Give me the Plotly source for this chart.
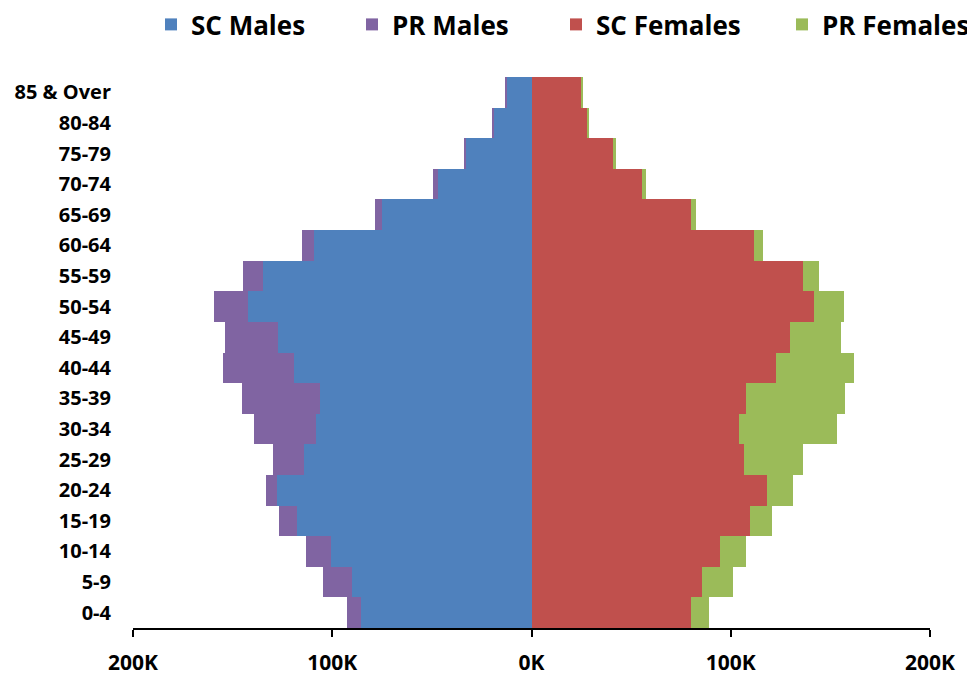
import plotly.graph_objects as go

age_groups = ["0-4", "5-9", "10-14", "15-19", "20-24", "25-29", "30-34", "35-39",
              "40-44", "45-49", "50-54", "55-59", "60-64", "65-69", "70-74",
              "75-79", "80-84", "85 & Over"]

sc_males = [85400, 90200, 100800, 117500, 127500, 114400, 108000, 106300,
            119400, 127000, 142100, 134900, 109000, 74800, 47100, 32800, 19100, 12500]
pr_males = [7300, 14500, 12200, 9300, 5600, 15100, 31200, 39000,
            35200, 26600, 17000, 9700, 6300, 3500, 2500, 1200, 500, 500]
sc_females = [80100, 85400, 94500, 109500, 118100, 106700, 104200, 107500,
              122600, 129600, 141700, 136300, 111600, 80100, 55300, 41000, 28300, 25300]
pr_females = [8900, 15800, 13400, 11300, 13100, 29600, 49200, 49600,
              39200, 25700, 14900, 7800, 4700, 2700, 2000, 1400, 500, 500]

tick_vals = [-200000, -100000, 0, 100000, 200000]
tick_text = ["200K", "100K", "0K", "100K", "200K"]

FONT = "Open Sans, Arial, sans-serif"
# the page body adds an 8px margin, so the figure is sized to fit inside it
W, H, PAGE = 967, 665, 8

fig = go.Figure()
fig.add_trace(go.Bar(y=age_groups, x=[-v for v in sc_males], name="SC Males",
                     orientation="h", marker_color="#4F81BD", legend="legend"))
fig.add_trace(go.Bar(y=age_groups, x=[-v for v in pr_males], name="PR Males",
                     orientation="h", marker_color="#8064A2", legend="legend2"))
fig.add_trace(go.Bar(y=age_groups, x=sc_females, name="SC Females",
                     orientation="h", marker_color="#C0504D", legend="legend3"))
fig.add_trace(go.Bar(y=age_groups, x=pr_females, name="PR Females",
                     orientation="h", marker_color="#9BBB59", legend="legend4"))
fig.update_traces(marker_line_width=0, showlegend=True)

# one legend per entry so each can sit where the original has it
def leg(sym_left):
    return dict(x=(sym_left - PAGE - 16) / W, xref="container", xanchor="left",
                y=1 - (24.5 - PAGE) / H, yref="container", yanchor="middle",
                orientation="h", bgcolor="rgba(0,0,0,0)",
                font=dict(family=FONT, size=26, color="black", weight="bold"))

fig.update_layout(
    width=W, height=H,
    margin=dict(l=125, r=45, t=69, b=45, autoexpand=False),
    plot_bgcolor="white", paper_bgcolor="white",
    barmode="relative", bargap=0, showlegend=True,
    font=dict(family=FONT, color="black"),
    legend=leg(167), legend2=leg(368), legend3=leg(572), legend4=leg(798),
    xaxis=dict(
        range=[-200000, 200000], tickvals=tick_vals, ticktext=tick_text,
        showgrid=False, zeroline=True, zerolinecolor="#868686", zerolinewidth=1.5,
        showline=True, linecolor="black", linewidth=2,
        ticks="outside", tickcolor="black", tickwidth=2, ticklen=7,
        ticklabelstandoff=8,
        tickfont=dict(family=FONT, size=21, color="black", weight="bold"),
        layer="above traces",
    ),
    yaxis=dict(
        range=[-0.5, 17.5], showgrid=False, showline=False, ticks="",
        ticklabelstandoff=21,
        tickfont=dict(family=FONT, size=20, color="black", weight="bold"),
    ),
)

fig.write_html("out.html")
